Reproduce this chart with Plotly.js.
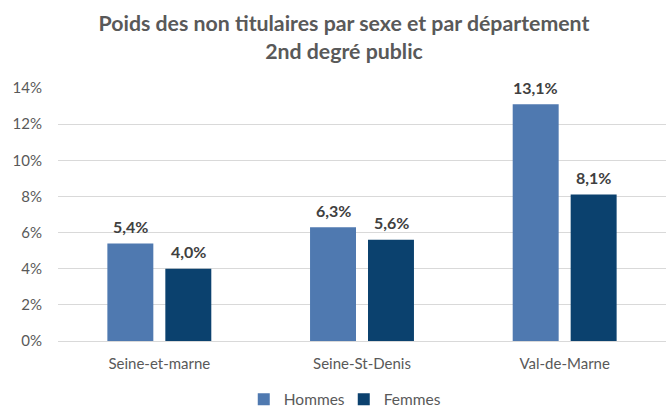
<!DOCTYPE html>
<html><head><meta charset="utf-8">
<script src="https://cdn.plot.ly/plotly-3.0.1.min.js"></script>
<style>body{margin:0;background:#fff}#c{width:666px;height:407px}</style>
</head><body><div id="c"></div>
<script>
var categories = ["Seine-et-marne", "Seine-St-Denis", "Val-de-Marne"];
var seriesNames = ["Hommes", "Femmes"];
var hommes = [5.4, 6.3, 13.1];
var femmes = [4.0, 5.6, 8.1];
var yTicks = [0, 2, 4, 6, 8, 10, 12, 14];
var yTickLabels = ["0%", "2%", "4%", "6%", "8%", "10%", "12%", "14%"];

var font = "Lato, 'Open Sans', sans-serif";
var colors = ["#4f79b0", "#0b416e"];
var series = [hommes, femmes];

var traces = series.map(function(vals, i){
  return {type:"bar", name:seriesNames[i], x:categories, y:vals,
    marker:{color:colors[i]}, hoverinfo:"skip"};
});

function fmt(v){ return v.toFixed(1).replace(".", ",") + "%"; }
var annotations = [];
series.forEach(function(vals, i){
  vals.forEach(function(v, j){
    annotations.push({x:categories[j], y:v, xref:"x", yref:"y", text:"<b>"+fmt(v)+"</b>",
      showarrow:false, xanchor:"center", yanchor:"middle", yshift:17,
      xshift:(i===0 ? -29 : 29),
      font:{family:font, size:16, color:"#404040"}});
  });
});

var layout = {
  width:666, height:407,
  paper_bgcolor:"#fff", plot_bgcolor:"#fff",
  margin:{l:58, r:0, t:88, b:66, autoexpand:false},
  font:{family:font, color:"#595959", size:15},
  title:{text:"<b>Poids des non titulaires par sexe et par département<br>2nd degré public</b>",
    font:{family:font, size:21.3, color:"#595959"}, x:0.5165, xanchor:"center",
    yref:"container", y:0.9236, yanchor:"top"},
  barmode:"group", bargap:0.428, bargroupgap:0.207,
  xaxis:{tickfont:{size:15, color:"#595959"}, showline:false, ticks:"outside", ticklen:9,
    tickcolor:"rgba(0,0,0,0)", automargin:false, fixedrange:true},
  yaxis:{range:[0,14], tickvals:yTicks, ticktext:yTickLabels,
    gridcolor:"#d9d9d9", gridwidth:1, zeroline:true, zerolinecolor:"#d9d9d9",
    tickfont:{size:15, color:"#595959"},
    ticks:"outside", ticklen:12, tickcolor:"rgba(0,0,0,0)", automargin:false, fixedrange:true},
  legend:{orientation:"h", x:0.47, xanchor:"center", y:-0.232, yanchor:"middle",
    font:{size:15.5, color:"#595959"}, traceorder:"normal", entrywidth:55, entrywidthmode:"pixels",
    itemwidth:30},
  showlegend:true,
  annotations:annotations
};
Plotly.newPlot("c", traces, layout, {staticPlot:true});
</script></body></html>
